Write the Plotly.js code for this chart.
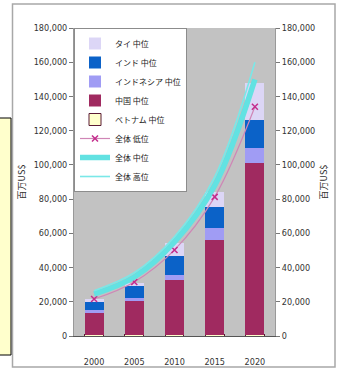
<!DOCTYPE html>
<html><head><meta charset="utf-8">
<script src="https://cdn.plot.ly/plotly-3.0.1.min.js"></script>
<style>html,body{margin:0;padding:0;background:#fff;}#c{width:339px;height:370px;}</style>
</head><body><div id="c"></div>
<script>
const years = ['2000','2005','2010','2015','2020'];
const vietnam = [800, 800, 800, 800, 800];
const china = [12500, 19700, 32000, 55400, 100400];
const indonesia = [1800, 1800, 2900, 7000, 8800];
const india = [4700, 7000, 11100, 12300, 16400];
const thai = [1900, 1700, 7600, 8800, 21600];
const totalLow = [21600, 31600, 50300, 81300, 134000];
const totalMid = [24500, 34500, 55000, 88000, 150000];
const totalHigh = [26500, 37000, 58000, 93000, 160000];
const yTicks = [0,20000,40000,60000,80000,100000,120000,140000,160000,180000];

const jp = '"Noto Sans CJK JP", sans-serif';
const num = '"Liberation Sans Narrow", "DejaVu Sans Condensed", sans-serif';

function bar(name, y, color, rank, lineColor) {
  return {type:'bar', name:name, x:years, y:y, width:0.47,
    marker:{color:color, line:{color:lineColor||color, width:lineColor?1:0}},
    legendrank:rank, hoverinfo:'skip'};
}
const traces = [
  bar('ベトナム 中位', vietnam, '#ffffcc', 5, '#5a1a35'),
  bar('中国 中位', china, '#a02a60', 4),
  bar('インドネシア 中位', indonesia, '#a09cf4', 3),
  bar('インド 中位', india, '#0b62c8', 2),
  bar('タイ 中位', thai, '#dcd6f6', 1),
  {type:'scatter', mode:'lines+markers', name:'全体 低位', x:years, y:totalLow,
   line:{color:'#cf86b6', width:1.2, shape:'spline'},
   marker:{symbol:'x-thin', size:6, color:'#c42c8c', line:{color:'#c42c8c', width:1.5}},
   legendrank:6},
  {type:'scatter', mode:'lines', name:'全体 中位', x:years, y:totalMid,
   line:{color:'#62e2e2', width:5.5, shape:'spline'}, legendrank:7},
  {type:'scatter', mode:'lines', name:'全体 高位', x:years, y:totalHigh, yaxis:'y2',
   line:{color:'#7ae8e8', width:1.6, shape:'spline'}, legendrank:8}
];

const px = v => (v-74)/201;
const py = v => (336-v)/308;

const layout = {
  width:339, height:370,
  margin:{l:74, r:64, t:28, b:34},
  paper_bgcolor:'#ffffff', plot_bgcolor:'#c2c2c2',
  barmode:'stack', bargap:0.53,
  showlegend:true,
  legend:{x:0, y:1, xanchor:'left', yanchor:'top', bgcolor:'#ffffff',
    bordercolor:'#8c8c8c', borderwidth:1, traceorder:'normal',
    font:{family:jp, size:8, color:'#222'}, itemwidth:30, tracegroupgap:0},
  xaxis:{type:'category', showgrid:false, zeroline:false, showline:true, linecolor:'#555', linewidth:1,
    ticks:'', tickfont:{family:num, size:9, color:'#333'}, ticklabelstandoff:17, fixedrange:true},
  yaxis:{range:[0,180000], tickvals:yTicks, tickformat:',d', showgrid:false, zeroline:false,
    showline:true, linecolor:'#999', ticks:'outside', ticklen:4, tickcolor:'#777',
    tickfont:{family:num, size:9, color:'#333'},
    title:{text:'百万US$', font:{family:jp, size:9, color:'#333'}, standoff:6}},
  yaxis2:{range:[0,180000], tickvals:yTicks, tickformat:',d', overlaying:'y', side:'right',
    showgrid:false, zeroline:false, showline:true, linecolor:'#999', ticks:'outside', ticklen:4, tickcolor:'#777',
    tickfont:{family:num, size:9, color:'#333'},
    title:{text:'百万US$', font:{family:jp, size:9, color:'#333'}, standoff:6}},
  shapes:[
    {type:'rect', xref:'paper', yref:'paper', x0:px(12.5), x1:px(335), y0:py(367), y1:py(4),
     line:{color:'#a8a8a8', width:1.5}, fillcolor:'rgba(0,0,0,0)', layer:'below'},
    {type:'rect', xref:'paper', yref:'paper', x0:px(-2), x1:px(11), y0:py(355), y1:py(118),
     line:{color:'#000', width:1}, fillcolor:'#ffffcc', layer:'above'}
  ]
};
Plotly.newPlot('c', traces, layout, {staticPlot:true, displayModeBar:false});
</script></body></html>
